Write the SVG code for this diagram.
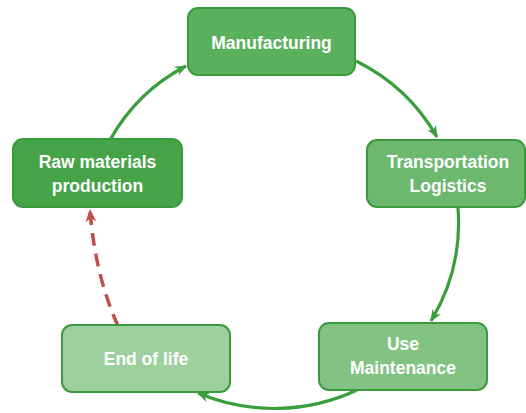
<svg xmlns="http://www.w3.org/2000/svg" width="526" height="413" viewBox="0 0 526 413">
<defs>
<style>
.box{stroke:#3a9b3c;stroke-width:2}
.lbl{font-family:"Liberation Sans",Arial,sans-serif;font-weight:bold;font-size:17.5px;fill:#ffffff;text-anchor:middle}
.arr{fill:none;stroke:#3a9e3c;stroke-width:3.2}
.dash{fill:none;stroke:#c0504d;stroke-width:3.5;stroke-dasharray:13 8}
</style>
<marker id="ga" viewBox="0 0 12 10" refX="11" refY="5" markerWidth="12" markerHeight="10" markerUnits="userSpaceOnUse" orient="auto">
<path d="M0,0 L12,5 L0,10 L3.5,5 z" fill="#3a9e3c"/>
</marker>
<marker id="ra" viewBox="0 0 12 10" refX="11" refY="5" markerWidth="13" markerHeight="11" markerUnits="userSpaceOnUse" orient="auto">
<path d="M0,0 L12,5 L0,10 L3.5,5 z" fill="#c0504d"/>
</marker>
</defs>
<g id="connectors">
<path class="arr" d="M110,140 A185,185 0 0 1 186,66" marker-end="url(#ga)"/>
<path class="arr" d="M356,61 A190,190 0 0 1 437,137" marker-end="url(#ga)"/>
<path class="arr" d="M458,208 A190,190 0 0 1 431,321" marker-end="url(#ga)"/>
<path class="arr" d="M357,390 A195,195 0 0 1 198,393" marker-end="url(#ga)"/>
<path class="dash" d="M118,326 Q95,275 90,210" marker-end="url(#ra)"/>
</g>
<g id="manufacturing">
<rect class="box" x="188" y="8" width="167" height="67" rx="10" fill="#5bb05e"/>
<text class="lbl" x="271.5" y="49">Manufacturing</text>
</g>
<g id="transportation">
<rect class="box" x="367" y="140" width="158" height="67" rx="10" fill="#6cb86e"/>
<text class="lbl" x="448" y="168">Transportation</text>
<text class="lbl" x="448" y="192">Logistics</text>
</g>
<g id="use">
<rect class="box" x="319" y="323" width="168" height="67" rx="10" fill="#82c384"/>
<text class="lbl" x="403" y="350">Use</text>
<text class="lbl" x="403" y="374">Maintenance</text>
</g>
<g id="endoflife">
<rect class="box" x="62" y="325" width="168" height="67" rx="10" fill="#9dd09e"/>
<text class="lbl" x="146" y="365">End of life</text>
</g>
<g id="raw">
<rect class="box" x="13" y="139" width="169" height="68" rx="10" fill="#45a348"/>
<text class="lbl" x="97.5" y="168">Raw materials</text>
<text class="lbl" x="97.5" y="192">production</text>
</g>
</svg>
